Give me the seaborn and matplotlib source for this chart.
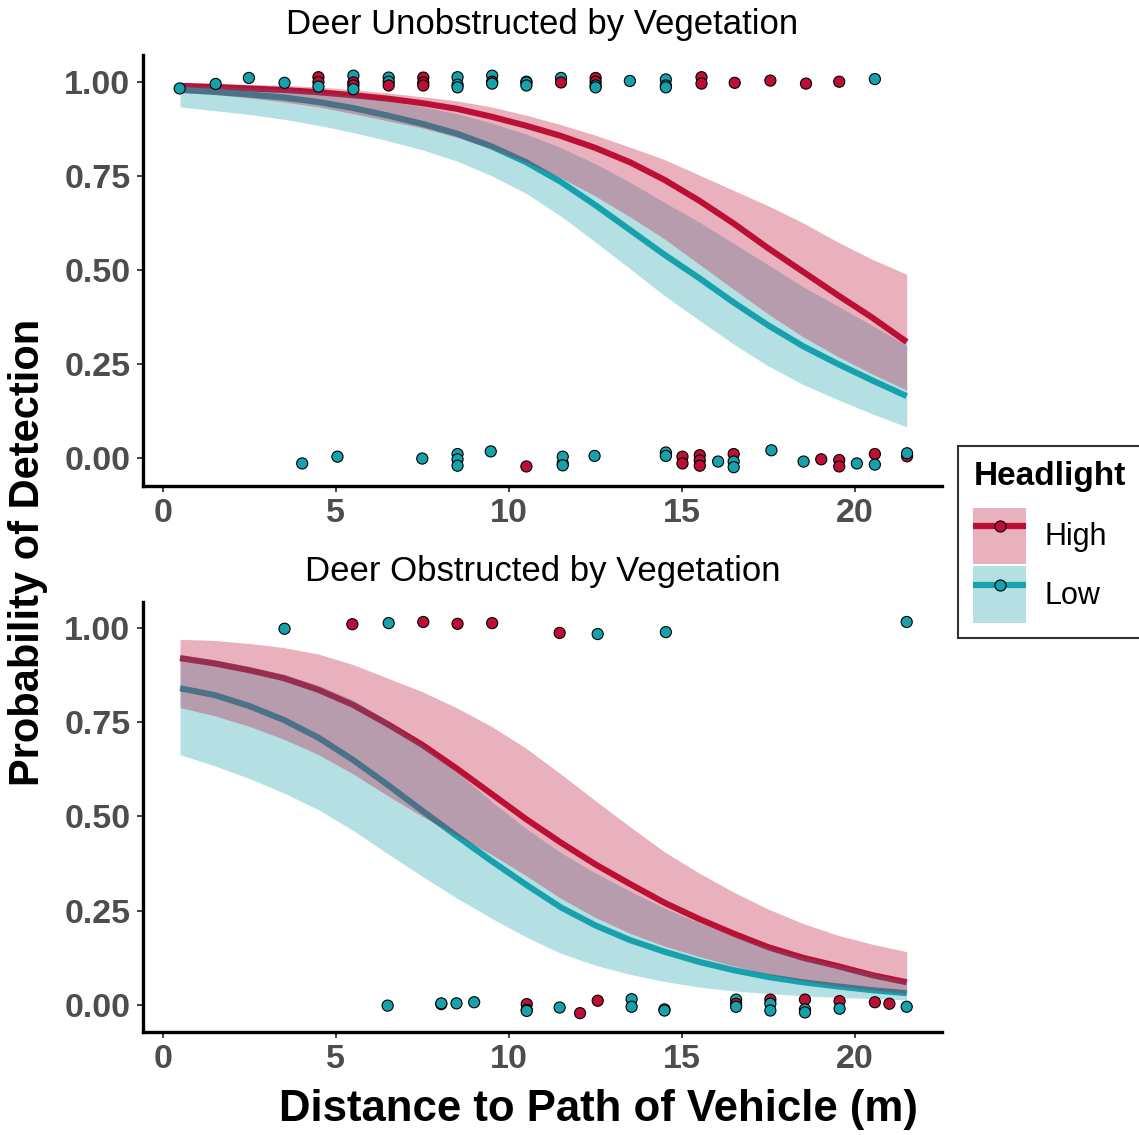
import numpy as np
import pandas as pd
import matplotlib
matplotlib.use("Agg")
import matplotlib.pyplot as plt
import seaborn as sns
from matplotlib.patches import Patch
from matplotlib.lines import Line2D
from matplotlib.legend_handler import HandlerTuple

# ---------------- data ----------------
groups = ["High", "Low"]
curve_x = [0.5, 1.5, 2.5, 3.5, 4.5, 5.5, 6.5, 7.5, 8.5, 9.5, 10.5,
           11.5, 12.5, 13.5, 14.5, 15.5, 16.5, 17.5, 18.5, 19.5, 20.5, 21.5]

# Top panel: Deer Unobstructed by Vegetation
top_high_fit = [0.989, 0.986, 0.982, 0.978, 0.972, 0.964, 0.955, 0.943, 0.928, 0.907, 0.883,
                0.856, 0.824, 0.786, 0.739, 0.684, 0.623, 0.557, 0.495, 0.433, 0.373, 0.308]
top_high_lo = [0.972, 0.966, 0.957, 0.946, 0.933, 0.915, 0.896, 0.877, 0.852, 0.822, 0.786,
               0.745, 0.696, 0.641, 0.582, 0.515, 0.448, 0.382, 0.322, 0.270, 0.223, 0.180]
top_high_hi = [0.996, 0.995, 0.993, 0.990, 0.986, 0.979, 0.970, 0.960, 0.949, 0.933, 0.911,
               0.886, 0.858, 0.826, 0.793, 0.752, 0.711, 0.670, 0.625, 0.574, 0.528, 0.488]
top_low_fit = [0.978, 0.973, 0.966, 0.958, 0.946, 0.930, 0.910, 0.888, 0.862, 0.828, 0.786,
               0.734, 0.672, 0.606, 0.540, 0.478, 0.413, 0.352, 0.297, 0.250, 0.206, 0.164]
top_low_lo = [0.933, 0.923, 0.913, 0.900, 0.884, 0.865, 0.843, 0.819, 0.789, 0.750, 0.703,
              0.643, 0.574, 0.503, 0.431, 0.366, 0.302, 0.244, 0.195, 0.155, 0.117, 0.082]
top_low_hi = [0.990, 0.988, 0.984, 0.979, 0.972, 0.962, 0.949, 0.934, 0.915, 0.890, 0.861,
              0.825, 0.782, 0.733, 0.679, 0.627, 0.570, 0.513, 0.455, 0.404, 0.352, 0.299]

# Bottom panel: Deer Obstructed by Vegetation
bot_high_fit = [0.920, 0.906, 0.888, 0.867, 0.836, 0.796, 0.745, 0.690, 0.627, 0.560, 0.493,
                0.431, 0.373, 0.321, 0.271, 0.228, 0.189, 0.153, 0.125, 0.103, 0.079, 0.060]
bot_high_lo = [0.789, 0.767, 0.739, 0.705, 0.664, 0.613, 0.555, 0.500, 0.450, 0.399, 0.343,
               0.283, 0.232, 0.190, 0.156, 0.128, 0.103, 0.081, 0.064, 0.050, 0.040, 0.030]
bot_high_hi = [0.970, 0.967, 0.959, 0.948, 0.931, 0.903, 0.867, 0.831, 0.788, 0.739, 0.681,
               0.613, 0.542, 0.473, 0.406, 0.350, 0.299, 0.254, 0.216, 0.185, 0.161, 0.141]
bot_low_fit = [0.840, 0.822, 0.793, 0.756, 0.709, 0.650, 0.584, 0.515, 0.448, 0.382, 0.319,
               0.259, 0.211, 0.172, 0.141, 0.114, 0.092, 0.074, 0.060, 0.049, 0.039, 0.031]
bot_low_lo = [0.664, 0.634, 0.601, 0.562, 0.518, 0.463, 0.401, 0.341, 0.283, 0.230, 0.180,
              0.137, 0.105, 0.081, 0.062, 0.047, 0.037, 0.030, 0.024, 0.020, 0.017, 0.013]
bot_low_hi = [0.930, 0.915, 0.898, 0.877, 0.848, 0.809, 0.754, 0.690, 0.618, 0.540, 0.468,
              0.404, 0.350, 0.302, 0.257, 0.218, 0.182, 0.153, 0.127, 0.106, 0.085, 0.062]

# Observed (jittered) detections, top panel
top_pts_x = [0.49, 1.53, 2.49, 3.52, 4.50, 4.50, 4.50, 5.51, 5.51, 5.51, 5.51,
             6.53, 6.53, 6.53, 7.53, 7.53, 7.53, 8.52, 8.52, 8.52, 9.52, 9.52, 9.52,
             10.51, 10.51, 10.51, 11.51, 11.51, 12.51, 12.51, 12.51, 12.51, 13.50,
             14.54, 14.54, 14.54, 15.57, 15.57, 16.53, 17.56, 18.59, 19.55, 20.58,
             4.03, 5.05, 7.50, 8.52, 8.52, 8.52, 9.48, 10.51, 11.56, 11.56, 11.56,
             12.48, 14.54, 14.54, 15.02, 15.02, 15.52, 15.52, 15.52, 16.05, 16.50,
             16.50, 16.50, 17.59, 18.52, 19.03, 19.55, 19.55, 20.06, 20.58, 20.58,
             21.51, 21.51]
top_pts_y = [0.982, 0.994, 1.010, 0.997, 1.012, 0.999, 0.987, 1.016, 0.998, 0.990, 0.980,
             1.011, 1.000, 0.990, 1.011, 0.998, 0.990, 1.012, 0.992, 0.985, 1.016, 1.000, 0.995,
             1.000, 0.998, 0.990, 1.010, 0.998, 1.010, 1.000, 0.990, 0.985, 1.002,
             1.006, 0.990, 0.985, 1.012, 0.995, 0.997, 1.003, 0.995, 1.000, 1.007,
             -0.015, 0.003, -0.002, 0.010, -0.004, -0.021, 0.017, -0.023, -0.015, 0.003, -0.020,
             0.005, 0.014, 0.005, 0.003, -0.015, 0.007, -0.007, -0.021, -0.010, 0.010,
             -0.010, -0.025, 0.020, -0.010, -0.004, -0.006, -0.023, -0.015, 0.010, -0.018,
             0.004, 0.012]
top_pts_g = ["Low", "Low", "Low", "Low", "High", "High", "Low", "Low", "High", "High", "Low",
             "Low", "Low", "High", "High", "High", "High", "Low", "Low", "Low", "Low", "High", "Low",
             "Low", "Low", "Low", "Low", "High", "High", "High", "Low", "Low", "Low",
             "Low", "Low", "Low", "High", "High", "High", "High", "High", "High", "Low",
             "Low", "Low", "Low", "Low", "Low", "Low", "Low", "High", "High", "Low", "Low",
             "Low", "Low", "Low", "High", "High", "High", "High", "High", "Low", "High",
             "Low", "Low", "Low", "Low", "High", "High", "High", "Low", "High", "Low",
             "High", "Low"]

# Observed (jittered) detections, bottom panel
bot_pts_x = [3.52, 5.48, 6.53, 7.53, 8.52, 9.52, 11.47, 12.57, 14.54, 21.50,
             6.50, 8.05, 8.05, 8.49, 9.00, 10.52, 10.52, 10.52, 11.47, 12.06, 12.57,
             13.55, 13.55, 14.50, 14.50, 16.57, 16.57, 16.57, 17.56, 17.56, 17.56,
             18.56, 18.56, 18.56, 19.56, 19.56, 20.58, 21.00, 21.50]
bot_pts_y = [0.998, 1.010, 1.013, 1.016, 1.011, 1.013, 0.987, 0.984, 0.989, 1.016,
             -0.002, 0.002, 0.004, 0.004, 0.007, 0.002, -0.013, -0.016, -0.007, -0.022, 0.011,
             0.015, -0.005, -0.012, -0.015, 0.014, 0.003, -0.005, 0.014, 0.003, -0.015,
             0.014, -0.012, -0.020, 0.010, -0.010, 0.007, 0.003, -0.005]
bot_pts_g = ["Low", "High", "Low", "High", "High", "High", "High", "Low", "Low", "Low",
             "Low", "Low", "Low", "Low", "Low", "High", "Low", "Low", "Low", "High", "High",
             "Low", "Low", "Low", "Low", "Low", "High", "Low", "High", "Low", "Low",
             "High", "Low", "Low", "High", "Low", "High", "High", "Low"]

titles = ["Deer Unobstructed by Vegetation", "Deer Obstructed by Vegetation"]
x_ticks = [0, 5, 10, 15, 20]
y_ticks = [0.0, 0.25, 0.5, 0.75, 1.0]
y_tick_labels = ["0.00", "0.25", "0.50", "0.75", "1.00"]

# ---------------- style ----------------
RED = "#BC0F36"
TEAL = "#17A1AD"
palette = {"High": RED, "Low": TEAL}
BAND_ALPHA = 0.32

sns.set_theme(style="white")
plt.rcParams["font.family"] = ["Liberation Sans", "DejaVu Sans"]
plt.rcParams["text.color"] = "black"

W, H = 1139, 1135
fig = plt.figure(figsize=(W / 100, H / 100), dpi=100)
ax1 = fig.add_axes([143 / W, 1 - 486 / H, (942 - 143) / W, (486 - 55) / H])
ax2 = fig.add_axes([143 / W, 1 - 1032 / H, (942 - 143) / W, (1032 - 602) / H])

panels = [
    (ax1, (top_high_fit, top_high_lo, top_high_hi), (top_low_fit, top_low_lo, top_low_hi),
     (top_pts_x, top_pts_y, top_pts_g), (-0.075, 1.071)),
    (ax2, (bot_high_fit, bot_high_lo, bot_high_hi), (bot_low_fit, bot_low_lo, bot_low_hi),
     (bot_pts_x, bot_pts_y, bot_pts_g), (-0.072, 1.069)),
]

for i, (ax, hi_set, lo_set, pts, ylim) in enumerate(panels):
    fit_df = pd.DataFrame({
        "Distance": list(curve_x) * 2,
        "Prob": list(hi_set[0]) + list(lo_set[0]),
        "Headlight": ["High"] * len(curve_x) + ["Low"] * len(curve_x),
    })
    sns.lineplot(data=fit_df, x="Distance", y="Prob", hue="Headlight", palette=palette,
                 linewidth=4.4, legend=False, ax=ax, zorder=2, errorbar=None,
                 solid_capstyle="butt", solid_joinstyle="round")
    # Low band first, High band on top (mauve overlap)
    for g, s in [("Low", lo_set), ("High", hi_set)]:
        ax.fill_between(curve_x, s[1], s[2], color=palette[g], alpha=BAND_ALPHA,
                        linewidth=0, zorder=3)
    pts_df = pd.DataFrame({"Distance": pts[0], "Prob": pts[1], "Headlight": pts[2]})
    sns.scatterplot(data=pts_df, x="Distance", y="Prob", hue="Headlight", palette=palette,
                    s=64, edgecolor="black", linewidth=0.8, legend=False, ax=ax, zorder=4)

    ax.set_xlim(-0.57, 22.52)
    ax.set_ylim(*ylim)
    ax.set_xticks(x_ticks)
    ax.set_xticklabels([str(t) for t in x_ticks])
    ax.set_yticks(y_ticks)
    ax.set_yticklabels(y_tick_labels)
    ax.set_xlabel("")
    ax.set_ylabel("")
    ax.set_title(titles[i], fontsize=25, color="black", pad=15)
    for side in ["top", "right"]:
        ax.spines[side].set_visible(False)
    for side in ["left", "bottom"]:
        ax.spines[side].set_visible(True)
        ax.spines[side].set_color("black")
        ax.spines[side].set_linewidth(2.4)
    ax.tick_params(axis="both", which="major", direction="out", length=4, width=1.3,
                   color="#333333", labelcolor="#4D4D4D", labelsize=24.5, pad=5,
                   bottom=True, left=True)
    for lab in ax.get_xticklabels() + ax.get_yticklabels():
        lab.set_fontweight("bold")
    ax.grid(False)
    ax.set_facecolor("white")

fig.text(598 / W, 1 - 1110 / H, "Distance to Path of Vehicle (m)", ha="center", va="center",
         fontsize=31.5, fontweight="bold", color="black")
fig.text(28 / W, 1 - 552 / H, "Probability of Detection", ha="center", va="center",
         rotation=90, fontsize=30, fontweight="bold", color="black")

handles = []
for g in groups:
    patch = Patch(facecolor=palette[g], alpha=BAND_ALPHA, edgecolor="none")
    line = Line2D([], [], color=palette[g], linewidth=4.5, marker="o", markersize=8,
                  markerfacecolor=palette[g], markeredgecolor="black", markeredgewidth=0.8,
                  solid_capstyle="butt")
    handles.append((patch, line))

leg = fig.legend(handles, groups, title="Headlight", loc="upper left",
                 bbox_to_anchor=(958 / W, 1 - 446 / H), frameon=True, fancybox=False,
                 fontsize=22, title_fontproperties={"weight": "bold", "size": 24},
                 handler_map={tuple: HandlerTuple(ndivide=1)}, numpoints=1,
                 handlelength=1.73, handleheight=2.48, handletextpad=0.6,
                 labelspacing=0.07, borderpad=0.5, borderaxespad=0, alignment="left",
                 labelcolor="black")
leg.get_title().set_color("black")
leg._legend_box.sep = 11
leg.get_frame().set_edgecolor("black")
leg.get_frame().set_linewidth(1.5)

fig.savefig("out.png", dpi=100, facecolor="white")
